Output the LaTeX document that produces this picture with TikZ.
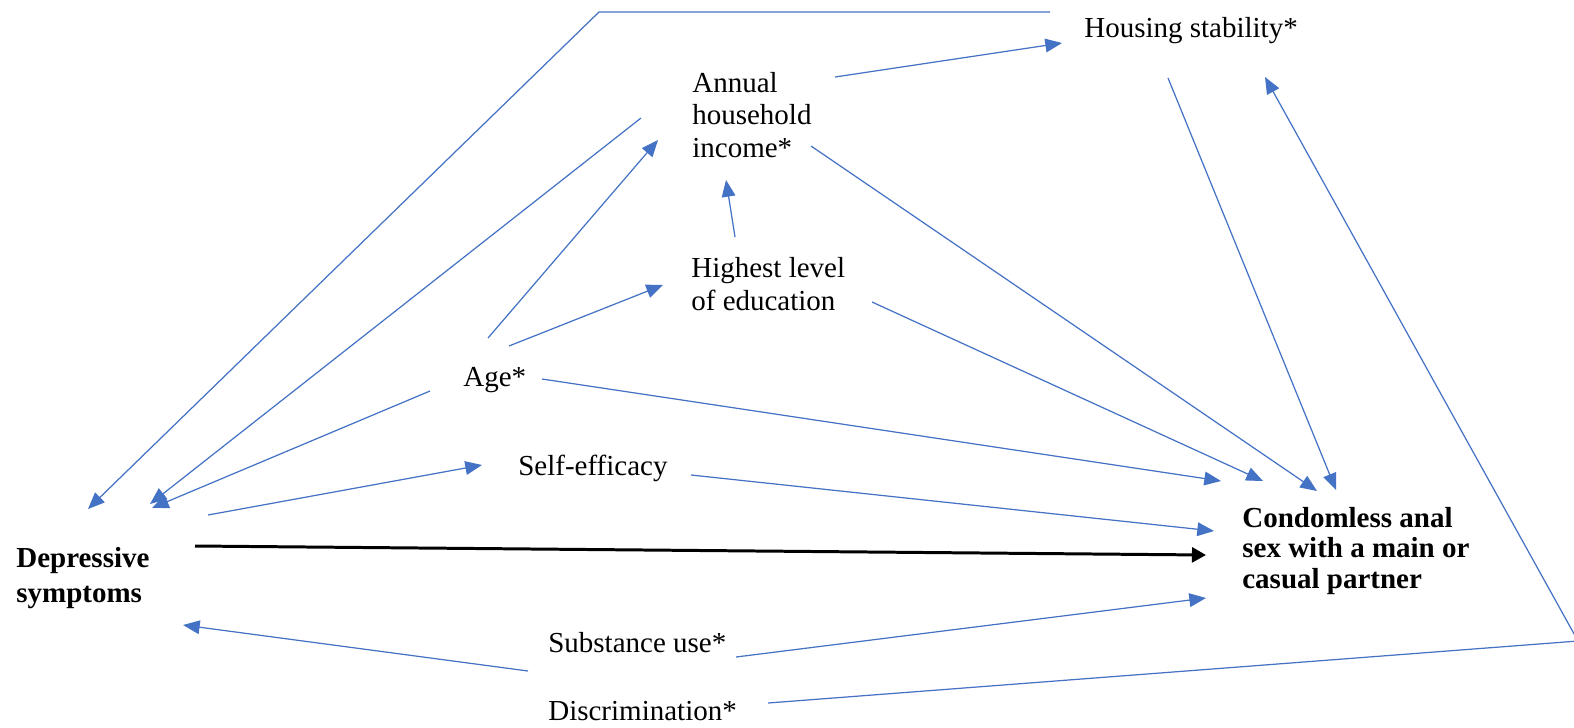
\documentclass[tikz,border=0pt]{standalone}
\usepackage{fontspec}
\setmainfont{Liberation Serif}
\usetikzlibrary{arrows.meta}
\definecolor{linkblue}{RGB}{68,114,196}

\tikzset{
    var/.style={anchor=base west, inner sep=0pt, align=left, font=\fontsize{16.5}{18.3}\selectfont},
    outcome/.style={var, font=\fontsize{16.5}{18.3}\selectfont\bfseries},
    link/.style={linkblue, line width=0.7pt, -{Triangle[length=9.5pt, width=7.8pt]}},
    mainlink/.style={black, line width=1.7pt, -{Triangle[length=8pt, width=8.5pt]}}
}

\begin{document}
\begin{tikzpicture}[x=0.02cm, y=-0.02cm]
    \useasboundingbox (0,0) rectangle (1574,727);

    \node[var] (house) at (1084,37) {Housing stability*};
    \node[var] (income) at (692,157) {Annual\\household\\income*};
    \node[var] (edu) at (691,310) {Highest level\\of education};
    \node[var] (age) at (463,386) {Age*};
    \node[var] (self) at (518,475) {Self-efficacy};
    \node[outcome] (dep) at (16,602) {Depressive\\[1.5pt]symptoms};
    \node[outcome] (cas) at (1242,588) {Condomless anal\\[-1pt]sex with a main or\\[-1pt]casual partner};
    \node[var] (subst) at (548,652) {Substance use*};
    \node[var] (disc) at (548,720) {Discrimination*};

    \coordinate (topbend) at (599,12);
    \coordinate (rightbend) at (1578,641);

    \draw[link] ([shift={(-34,-25)}]house.base west) -- (topbend) -- ([shift={(72,-93)}]dep.base west);
    \draw[link] ([shift={(-51,-39)}]income.base west) -- ([shift={(134,-98)}]dep.base west);
    \draw[link] ([shift={(-33,5)}]age.base west) -- ([shift={(136,-94)}]dep.base west);
    \draw[link] ([shift={(192,-87)}]dep.base west) -- ([shift={(-36,-10)}]self.base west);
    \draw[link] ([shift={(25,-48)}]age.base west) -- ([shift={(-34,-17)}]income.base west);
    \draw[link] ([shift={(46,-40)}]age.base west) -- ([shift={(-28,-25)}]edu.base west);
    \draw[link] ([shift={(44,-73)}]edu.base west) -- ([shift={(34,23)}]income.base west);
    \draw[link] ([shift={(143,-80)}]income.base west) -- ([shift={(-22,6)}]house.base west);
    \draw[link] ([shift={(119,-11)}]income.base west) -- ([shift={(75,-97)}]cas.base west);
    \draw[link] ([shift={(84,41)}]house.base west) -- ([shift={(94,-98)}]cas.base west);
    \draw[link] ([shift={(181,-8)}]edu.base west) -- ([shift={(21,-107)}]cas.base west);
    \draw[link] ([shift={(79,-7)}]age.base west) -- ([shift={(-21,-107)}]cas.base west);
    \draw[link] ([shift={(173,0)}]self.base west) -- ([shift={(-28,-57)}]cas.base west);
    \draw[mainlink] ([shift={(179,-56)}]dep.base west) -- ([shift={(-36,-33)}]cas.base west);
    \draw[link] ([shift={(188,5)}]subst.base west) -- ([shift={(-36,10)}]cas.base west);
    \draw[link] ([shift={(-20,19)}]subst.base west) -- ([shift={(167,23)}]dep.base west);
    \draw[link] ([shift={(220,-17)}]disc.base west) -- (rightbend) -- ([shift={(181,40)}]house.base west);
\end{tikzpicture}
\end{document}
